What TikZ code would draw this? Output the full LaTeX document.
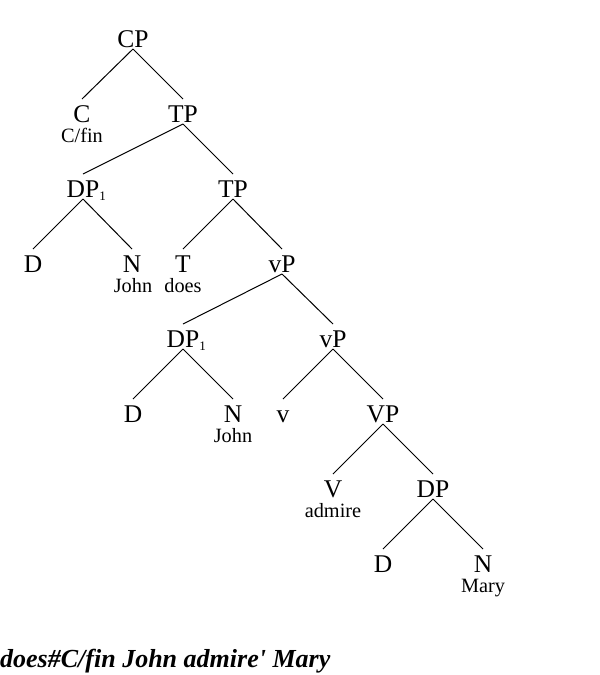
\documentclass[tikz,border=0pt]{standalone}
\usepackage{fontspec}
\setmainfont{Liberation Serif}
\newfontfamily\strfont{Liberation Serif}[Ligatures=TeXOff]
\begin{document}
\begin{tikzpicture}[x=1pt,y=-1pt,
  cat/.style={anchor=base,inner sep=0pt,font=\fontsize{25.5}{25.5}\selectfont},
  word/.style={anchor=base,inner sep=0pt,font=\fontsize{20.3}{20.3}\selectfont},
  branch/.style={line width=1pt,black}]
\useasboundingbox (0,0) rectangle (600,675);
\newcommand{\subone}{\rlap{\raisebox{-3pt}{\fontsize{13}{13}\selectfont 1}}}
% categories
\node[cat] (cp)   at (133,47)  {CP};
\node[cat] (c)    at (82,122)  {C};
\node[cat] (tp)   at (183,122) {TP};
\node[cat] (dpa)  at (83,197)  {DP\subone};
\node[cat] (tpb)  at (233,197) {TP};
\node[cat] (da)   at (33,272)  {D};
\node[cat] (na)   at (132,272) {N};
\node[cat] (t)    at (183,272) {T};
\node[cat] (vpa)  at (282,272) {vP};
\node[cat] (dpb)  at (183,347) {DP\subone};
\node[cat] (vpb)  at (333,347) {vP};
\node[cat] (db)   at (133,422) {D};
\node[cat] (nb)   at (233,422) {N};
\node[cat] (v)    at (283,422) {v};
\node[cat] (vp)   at (383,422) {VP};
\node[cat] (vv)   at (333,497) {V};
\node[cat] (dpc)  at (433,497) {DP};
\node[cat] (dc)   at (383,572) {D};
\node[cat] (nc)   at (483,572) {N};
% words
\node[word] (wcfin)  at (82,142)  {C/fin};
\node[word] (wjohna) at (133,292) {John};
\node[word] (wdoes)  at (183,292) {does};
\node[word] (wjohnb) at (233,442) {John};
\node[word] (wadm)   at (333,517) {admire};
\node[word] (wmary)  at (483,592) {Mary};
% bottom string
\node[anchor=base west,inner sep=0pt,font=\strfont\fontsize{26}{26}\selectfont\bfseries\itshape] (str) at (0,667) {does\#C/fin John admire' Mary};
% branches
\foreach \p/\c in {cp/c,cp/tp,tp/dpa,tp/tpb,dpa/da,dpa/na,tpb/t,tpb/vpa,vpa/dpb,vpa/vpb,dpb/db,dpb/nb,vpb/v,vpb/vp,vp/vv,vp/dpc,dpc/dc,dpc/nc}
  \draw[branch] ([yshift=-2pt]\p.base) -- ([yshift=23pt]\c.base);
\end{tikzpicture}
\end{document}
